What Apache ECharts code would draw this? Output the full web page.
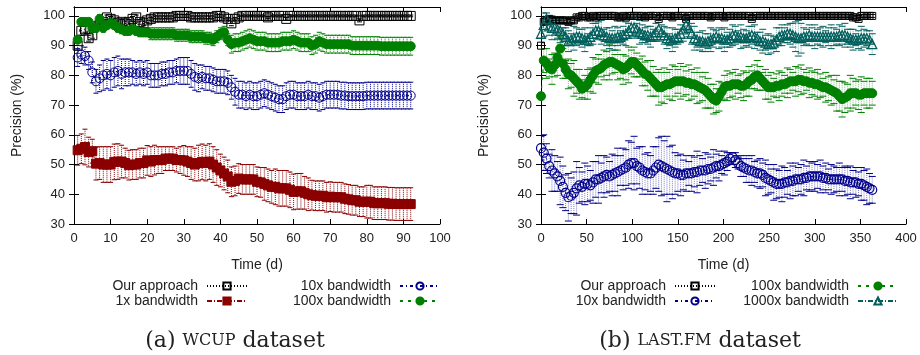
<!DOCTYPE html>
<html>
<head>
<meta charset="utf-8">
<script src="https://cdn.jsdelivr.net/npm/echarts@6/dist/echarts.min.js"></script>
<style>
html, body { margin: 0; padding: 0; background: #fff; }
#chart { width: 920px; height: 355px; }
</style>
</head>
<body>
<div id="chart"></div>
<script>
// panel (a): wcup, one point per day
var daysL = Array.from({length: 92}, function (_, i) { return i + 1; });
var ourL = [90,95,95.5,92.5,93.5,96.5,97,98,99.5,99, 98.5,97.5,98,97.5,98,99,99.5,98,97.5,98.5,
  99,99.5,99.5,99.5,99.5,99.5,99.5,100,100,100, 100,99.5,99.5,99.5,99.5,99.5,99.5,99.5,100,100,
  99.5,99,97.5,99,99.5,100,100,100,100,100, 100,100,99.5,100,100,100,100,99,100,100,
  100,100,100,100,100,100,100,100,100,100, 100,100,100,100,100,100,100,98.5,100,100,
  100,100,100,100,100,100,100,100,100,100, 100,100];
var errOurL = [1.5,1.5,1,1,1,1,1,0.8,0.8,0.8, 0.8,0.8,0.8,0.8,0.8,0.8,0.8,0.8,0.8,0.8,
  0.5,0.5,0.5,0.5,0.5,0.5,0.5,0.5,0.5,0.5, 0.5,0.5,0.5,0.5,0.5,0.5,0.5,0.5,0.5,0.5,
  0.5,0.5,0.8,0.5,0.5,0.3,0.3,0.3,0.3,0.3, 0.3,0.3,0.3,0.3,0.3,0.3,0.3,0.5,0.3,0.3,
  0.3,0.3,0.3,0.3,0.3,0.3,0.3,0.3,0.3,0.3, 0.3,0.3,0.3,0.3,0.3,0.3,0.3,0.5,0.3,0.3,
  0.3,0.3,0.3,0.3,0.3,0.3,0.3,0.3,0.3,0.3, 0.3,0.3];
var bw1L = [54.8,55.3,55.9,54.2,54.5,50.3,50.5,50,50,50, 50.9,51,51,50.5,49.8,50,50,50.5,50.5,51.4,
  51,51.5,51.5,51.5,52,52,52,51.5,51.5,51.4, 51,50.5,50,50.5,50.9,50.5,51,50,49,48,
  47,46,44.2,44.5,45.3,45,45,45,45,44.2, 44,43.5,43,42.5,42.5,42,42,42,41.5,40.8,
  41,41,40.5,40,39.7,39.5,39.5,39.5,39,39.2, 39,39,39,38.5,38.3,38,38,37.5,37.5,37.5,
  37.5,37,37,37,37,36.8,36.8,36.7,36.7,36.7, 36.7,36.7];
var err1L = [5,5,6,5,4,5.5,5.5,6,6,6, 6,6,5.5,5,5,5,5,5,5,5,
  5,5,4.5,4.5,4,4,4,4,4.5,5, 5,5.5,5.5,6,6,6,6,6,6,5.5,
  5.5,5.5,5,5,5,5,5,5,5,5, 5,5.5,5.5,5.5,6,6,6,6,6,6,
  6,6,5.5,5.5,5,5,5,5,5,5, 5,5,5,5,5,5,5,5,5,5.5,
  5.5,5.5,5.5,5.5,5.5,5.5,5.5,5.5,5.5,5.5, 5.5,5.5];
var bw10L = [86,87,86.5,85,81,78,79,80,80.5,80, 81,81.5,80.5,81,81,81,80.5,81,80.5,81,
  80,80,80,80.5,80.5,81,81,81.5,81.5,81.5, 81.5,80.5,79.5,79,79.5,79,79,78.5,78,78,
  78,77.5,76,74.5,73.5,73.5,73,73.5,73,73, 73.5,74,73.5,73,72.5,72,72,73,73.5,73.5,
  73,73,73,73.5,73,73,72.5,73,73.5,73.5, 73.5,73.5,73.2,73.2,73,73,73,73,73,73.2,
  73.2,73.2,73.2,73.2,73.2,73.2,73.2,73.2,73.2,73.2, 73.2,73.2];
var err10L = [3,3,3,3,3.5,4,4.5,5,5,5, 5,5,5,4.5,4.5,4,4,4,4,4,
  4,4,4,4,4,4,4,4,4.5,4.5, 4.5,4.5,4.5,4.5,4,4,4,4,4,4,
  4,4,4,4.5,4.5,4.5,4.5,4.5,4.5,4.5, 4.5,4.5,4.5,4.5,4.5,4.5,4.5,4.5,4.5,4.5,
  4.5,4.5,4.5,4.5,4.5,4.5,4.5,4.5,4.5,4.5, 4.5,4.5,4.5,4.5,4.5,4.5,4.5,4.5,4.5,4.5,
  4.5,4.5,4.5,4.5,4.5,4.5,4.5,4.5,4.5,4.5, 4.5,4.5];
var bw100L = [92,98,98,98,96,96,99,96,97,97.5, 97,96,95.5,95,95,95.5,95,94.5,94.5,94.5,
  94,94,94,94,94,94,94,93.5,93.5,93.5, 93.5,93,93,93,93,92.5,92.5,92,93,94,
  94.5,92,90.5,91,91,91.5,92,92.5,92,91.5, 91.5,91.5,91,91,91,91,91.5,91.5,91.5,92,
  91.5,91,91,91,90,90.5,91.5,91,90.5,90.5, 90.5,90.5,90.5,90.5,90.5,90,90,90,90,90,
  90,90,90,89.8,89.8,89.8,89.8,89.8,89.8,89.8, 89.8,89.8];
var err100L = [1,1,1,1,1.5,1.5,1.5,1.5,1.5,1.5, 1.5,1.5,1.5,1.5,1.5,1.5,1.5,1.5,1.5,1.5,
  2,2,2,2,2,2,2,2,2,2, 2,2,2,2,2,2,2,2,2,2,
  2,2,3,3,3,3,3,3,3,3, 3,3,3,3,3,3,3,3,3,3,
  3,3,3,3,3,3,3,3,3,3, 3,3,3,3,3,3,3,3,3,3,
  3,3,3,3,3,3,3,3,3,3, 3,3];

// panel (b): last.fm, read every 3 days (days 0..363), rows of 30 days
var daysR = Array.from({length: 122}, function (_, i) { return i * 3; });
var ourR = [90,98,98.5,99,98.5,98.5,98.5,98.5,98.5,98.5,
  98,98.5,98.5,99.5,99.5,100,100,99.5,99.5,100,
  99.5,100,100,100,100,100,100,100,99.5,99.5,
  100,99.5,100,100,100,100,100,100,99.5,100,
  100,100,100,99,100,100,100,100,99.5,100,
  100,100,100,99,100,100,100,100,100,100,
  100,100,99.5,100,100,100,100,99.5,100,100,
  100,100,100,100,100,100,100,99,100,100,
  100,100,100,100,100,100,100,100,100,100,
  100,100,100,100,100,100,100,100,100,100,
  100,100,100,100,100,100,100,100,100,100,
  100,100,100,100,99.5,99.5,99,100,100,100,
  100,100];
var errOurR = [1,1,1,0.8,0.8,0.8,0.8,0.8,0.8,0.8,
  0.8,0.8,0.8,0.5,0.5,0.5,0.5,0.5,0.5,0.5,
  0.5,0.5,0.5,0.5,0.5,0.5,0.5,0.5,0.5,0.5,
  0.5,0.5,0.5,0.5,0.5,0.5,0.5,0.5,0.5,0.5,
  0.5,0.5,0.5,0.5,0.5,0.5,0.5,0.5,0.5,0.5,
  0.5,0.5,0.5,0.5,0.5,0.5,0.5,0.5,0.5,0.5,
  0.5,0.5,0.5,0.5,0.5,0.5,0.5,0.5,0.5,0.5,
  0.5,0.5,0.5,0.5,0.5,0.5,0.5,0.5,0.5,0.5,
  0.5,0.5,0.5,0.5,0.5,0.5,0.5,0.5,0.5,0.5,
  0.5,0.5,0.5,0.5,0.5,0.5,0.5,0.5,0.5,0.5,
  0.5,0.5,0.5,0.5,0.5,0.5,0.5,0.5,0.5,0.5,
  0.5,0.5,0.5,0.5,0.5,0.5,0.5,0.5,0.5,0.5,
  0.5,0.5];
var bw10R = [55.5,54,52,49.5,48,47,46,44.5,42.5,40.5,
  39,39.5,40.5,42,43,42.5,43.5,43.5,43,44,
  45,45,45.5,46,46.5,46,46.5,47,47.5,48,
  48.5,49,50,50.5,50.5,49.5,49,48,47.5,47,
  47,48,49,50,49.5,49,48.5,48,47.5,47,
  47,46.5,46.5,47,47,47,47.5,47.5,48,48,
  48,48.5,48.5,49,49.5,49.5,50,50.5,51,52,
  52.5,51.5,50.5,49.5,49,48.5,48,48,47.5,47,
  47,46.5,45.5,45,44.5,44,43.5,43.5,43.5,44,
  44,44.5,44.5,45,45,45,45.5,45.5,46,46,
  46,46,46,45.5,45.5,45,45,45,45,45,
  45,44.5,44.5,44,44,44,43.5,43.5,43,42.5,
  42,41.5];
var err10R = [4,6,5,4,7,6,5,8,7,6,
  8,6,7,9,6,5,7,6,5,7,
  6,8,5,7,6,5,7,6,8,5,
  7,6,8,7,9,6,7,8,6,7,
  6,8,7,9,10,9,11,8,9,7,
  6,7,5,6,4,6,5,7,5,4,
  6,5,4,6,4,5,3,4,3,2,
  1.5,2.5,2,3.5,3,4.5,4,5,3.5,4.5,
  5,4,6,5,4,6,5,4.5,6,5,
  4,6,5,5.5,4,5,6,4,5,4.5,
  5,4,5.5,4,5,3.5,5,4.5,4,5.5,
  4,5,4.5,5.5,4,5,4,5.5,5,6,
  5,4.5];
var bw100R = [73,85,84,82.5,82,83.5,86,89,84,82,
  80.5,80,79,78,77,75.5,76,77,78.5,80,
  81.5,82,82.5,83.5,84,84.5,84.5,84,83.5,83,
  82,82.5,83.5,84.5,84.5,83.5,82.5,81.5,80.5,80,
  79,78,77,76,76,76.5,77,77,77.5,78,
  78,78,78,77.5,77.5,77,77,76.5,76,75.5,
  75,74,73,72,71.5,73,74.5,76,76.5,76.5,
  77,77,77,76.5,76.5,77,78,78.5,79.5,80,
  79,78,77,76,76,76,76.5,76.5,77,77,
  77.5,78,78,78,78.5,78.5,78,78,77.5,77.5,
  77,77,76.5,76,76,75.5,75,74.5,74,73,
  72,72.5,73,74,74,74,73.5,73.5,74,74,
  74,74];
var err100R = [1,4,5,3,5,4,6,4,5,3,
  5,4,6,4,5,3,4,5,4,6,
  4,5,3,5,4,6,4,3,5,4,
  5,4,6,4,5,4,3,5,4,5,
  6,5,4,6,5,6,4,5,6,5,
  4,6,5,4,6,5,4,6,5,4,
  6,5,4,5,4,5,3,4,5,4,
  4,5,3,4,5,4,5,3,4,5,
  4,3,5,4,5,3,4,5,4,3,
  5,4,3,5,4,5,4,3,5,4,
  4,5,4,3,5,4,5,4,6,5,
  6,5,4,6,5,4,5,6,4,5,
  5,4];
var bw1000R = [94,97,99,96.5,96,96,95.5,95,94,93,
  91.5,92,92.5,93,93,92.5,92,92,93,94,
  95,95,94.5,93.5,93,92.5,92.5,92.5,93,93,
  93.5,94,95,96,96,95.5,94.5,94,93.5,93.5,
  93,93.5,94.5,95.5,94.5,93.5,92.5,92,92,92.5,
  93,94,95.5,97,96,94,92.5,92,91.5,91.5,
  91,91.5,92,92.5,93,92.5,92.5,92,92,92.5,
  93.5,93.5,93,93,92.5,92.5,93,93.5,93,92.5,
  91.5,91.5,91,90.5,90.5,91,92,93,93.5,93.5,
  94,94,93.5,93,92.5,92.5,93,93,93.5,93,
  93,93,93,93,93,93,93,93,93,93.5,
  93.5,93.5,93,92.5,92,92,92,92.5,92.5,92.5,
  92,90.5];
var err1000R = [3,4,2,3,4,2.5,3,4,2,3,
  3.5,2,4,3,2.5,3,4,2,3,3.5,
  2.5,3,4,2,3,3.5,2.5,4,3,2,
  3,4,2.5,3,3.5,2,4,3,2.5,3,
  3.5,2,3,4,2.5,3,3.5,2,4,3,
  2.5,3,4,2,3,3.5,4,2.5,3,3.5,
  3,2.5,4,3,2,3.5,3,4,2.5,3,
  3.5,3,2,4,3,2.5,3.5,3,4,2,
  3,4,2.5,3.5,3,2,4,3,3.5,2.5,
  3,3.5,4,5,6,5,3,2.5,3.5,3,
  4,2.5,3,3.5,2,3,4,3,2.5,3.5,
  3,4,2.5,3,3.5,2,3,4,3,2.5,
  3,3.5];

var yTicks = [30, 40, 50, 60, 70, 80, 90, 100];

var SANS = 'Liberation Sans, Arial, sans-serif';
var SERIF = 'DejaVu Serif, serif';
var BLACK = '#000000', RED = '#8b0000', BLUE = '#00008b', GREEN = '#008000', TEAL = '#005f5d';

function pairs(xs, ys) {
  return xs.map(function (x, i) { return [x, ys[i]]; });
}
function bars(xs, ys, es) {
  return xs.map(function (x, i) { return [x, ys[i] - es[i], ys[i] + es[i]]; });
}

function errRender(color, half, stemAlpha) {
  return function (params, api) {
    var x = api.value(0);
    var top = api.coord([x, api.value(2)]);
    var bot = api.coord([x, api.value(1)]);
    return {
      type: 'group',
      children: [
        { type: 'line', shape: { x1: top[0], y1: top[1], x2: bot[0], y2: bot[1] },
          style: { stroke: color, lineWidth: 1, lineDash: [1, 1], opacity: stemAlpha } },
        { type: 'line', shape: { x1: top[0] - half, y1: top[1], x2: top[0] + half, y2: top[1] },
          style: { stroke: color, lineWidth: 1 } },
        { type: 'line', shape: { x1: bot[0] - half, y1: bot[1], x2: bot[0] + half, y2: bot[1] },
          style: { stroke: color, lineWidth: 1 } }
      ]
    };
  };
}

function errSeries(name, xi, data, color, half, stemAlpha) {
  return {
    name: name, type: 'custom', xAxisIndex: xi, yAxisIndex: xi,
    renderItem: errRender(color, half, stemAlpha), data: data,
    encode: { x: 0, y: [1, 2] }, silent: true, clip: true
  };
}

function lineSeries(name, xi, data, color, symbol, size, filled, dash, bw) {
  return {
    name: name, type: 'line', xAxisIndex: xi, yAxisIndex: xi, data: data,
    symbol: symbol, symbolSize: size, showAllSymbol: true,
    lineStyle: { color: color, width: 1, type: dash },
    itemStyle: { color: filled ? color : 'rgba(255,255,255,0)', borderColor: color, borderWidth: bw || 1 },
    emphasis: { disabled: true }, clip: true
  };
}

function xAxes(grid, max, step) {
  var base = {
    gridIndex: grid, type: 'value', min: 0, max: max, interval: step,
    axisLine: { show: true, lineStyle: { color: BLACK, width: 1 } },
    axisTick: { show: true, inside: true, length: 5, lineStyle: { color: BLACK } },
    splitLine: { show: false }
  };
  return [
    Object.assign({}, base, {
      position: 'bottom', name: 'Time (d)', nameLocation: 'middle', nameGap: 34,
      nameTextStyle: { fontFamily: SANS, fontSize: 14, color: '#222' },
      axisLabel: { fontFamily: SANS, fontSize: 13, color: '#222', margin: 8 }
    }),
    Object.assign({}, base, { position: 'top', axisLabel: { show: false } })
  ];
}

function yAxes(grid) {
  var base = {
    gridIndex: grid, type: 'value', min: 30, max: 103, interval: 10,
    axisLine: { show: true, lineStyle: { color: BLACK, width: 1 } },
    axisTick: { show: true, inside: true, length: 5, lineStyle: { color: BLACK },
      customValues: yTicks },
    splitLine: { show: false }
  };
  return [
    Object.assign({}, base, {
      position: 'left', name: 'Precision (%)', nameLocation: 'middle', nameGap: 50,
      nameTextStyle: { fontFamily: SANS, fontSize: 14, color: '#222' },
      axisLabel: { fontFamily: SANS, fontSize: 13, color: '#222', margin: 9, customValues: yTicks }
    }),
    Object.assign({}, base, { position: 'right', axisLabel: { show: false } })
  ];
}

function legendItem(name, rightEdge, top) {
  return {
    data: [name], right: 920 - rightEdge, top: top, align: 'right', orient: 'horizontal',
    itemWidth: 40, itemHeight: 9, padding: 0, selectedMode: false,
    textStyle: { fontFamily: SANS, fontSize: 14, color: '#222', padding: [0, 4, 0, 0] }
  };
}

function caption(x, label, sc) {
  return {
    type: 'text', x: x, y: 341,
    style: {
      text: '{n|' + label + ' }{s|' + sc + '}{n| dataset}',
      align: 'center', verticalAlign: 'middle', fill: '#222',
      rich: {
        n: { fontFamily: SERIF, fontSize: 22, fill: '#222' },
        s: { fontFamily: SERIF, fontSize: 16, fill: '#222' }
      }
    }
  };
}

var chart = echarts.init(document.getElementById('chart'), null, { renderer: 'canvas' });

chart.setOption({
  animation: false,
  backgroundColor: '#ffffff',
  grid: [
    { left: 74, top: 7, width: 366, height: 217 },
    { left: 541, top: 7, width: 365, height: 217 }
  ],
  xAxis: xAxes(0, 100, 10).concat(xAxes(1, 400, 50)),
  yAxis: yAxes(0).concat(yAxes(1)),
  legend: [
    legendItem('Our approach', 248, 279),
    legendItem('1x bandwidth', 248, 294),
    legendItem('10x bandwidth', 441, 279),
    legendItem('100x bandwidth', 441, 294),
    legendItem('Our approach', 716, 279),
    legendItem('10x bandwidth', 716, 294),
    legendItem('100x bandwidth', 899, 279),
    legendItem('1000x bandwidth', 899, 294)
  ],
  graphic: [caption(235, '(a)', 'WCUP'), caption(700, '(b)', 'LAST.FM')],
  series: [
    errSeries('e-our-a', 0, bars(daysL, ourL, errOurL), BLACK, 2.5, 1),
    lineSeries('Our approach', 0, pairs(daysL, ourL), BLACK, 'rect', 9, false, [1, 2]),
    errSeries('e-1x-a', 0, bars(daysL, bw1L, err1L), RED, 2.5, 1),
    lineSeries('1x bandwidth', 0, pairs(daysL, bw1L), RED, 'rect', 9, true, [5, 2, 1, 2]),
    errSeries('e-10x-a', 0, bars(daysL, bw10L, err10L), BLUE, 2.5, 1),
    lineSeries('10x bandwidth', 0, pairs(daysL, bw10L), BLUE, 'circle', 9, false, [3, 3, 1, 3]),
    errSeries('e-100x-a', 0, bars(daysL, bw100L, err100L), GREEN, 2.5, 1),
    lineSeries('100x bandwidth', 0, pairs(daysL, bw100L), GREEN, 'circle', 9, true, [3, 5]),

    errSeries('e-our-b', 2, bars(daysR, ourR, errOurR), BLACK, 3, 0.6),
    lineSeries('Our approach', 2, pairs(daysR, ourR), BLACK, 'rect', 7, false, [1, 2]),
    errSeries('e-10x-b', 2, bars(daysR, bw10R, err10R), BLUE, 3.5, 0.5),
    lineSeries('10x bandwidth', 2, pairs(daysR, bw10R), BLUE, 'circle', 9, false, [3, 3, 1, 3], 1.2),
    errSeries('e-100x-b', 2, bars(daysR, bw100R, err100R), GREEN, 3.5, 0.5),
    lineSeries('100x bandwidth', 2, pairs(daysR, bw100R), GREEN, 'circle', 9, true, [3, 5]),
    errSeries('e-1000x-b', 2, bars(daysR, bw1000R, err1000R), TEAL, 3.5, 0.5),
    lineSeries('1000x bandwidth', 2, pairs(daysR, bw1000R), TEAL, 'triangle', 9, false, [5, 2, 1, 2], 1.3)
  ]
});
</script>
</body>
</html>
